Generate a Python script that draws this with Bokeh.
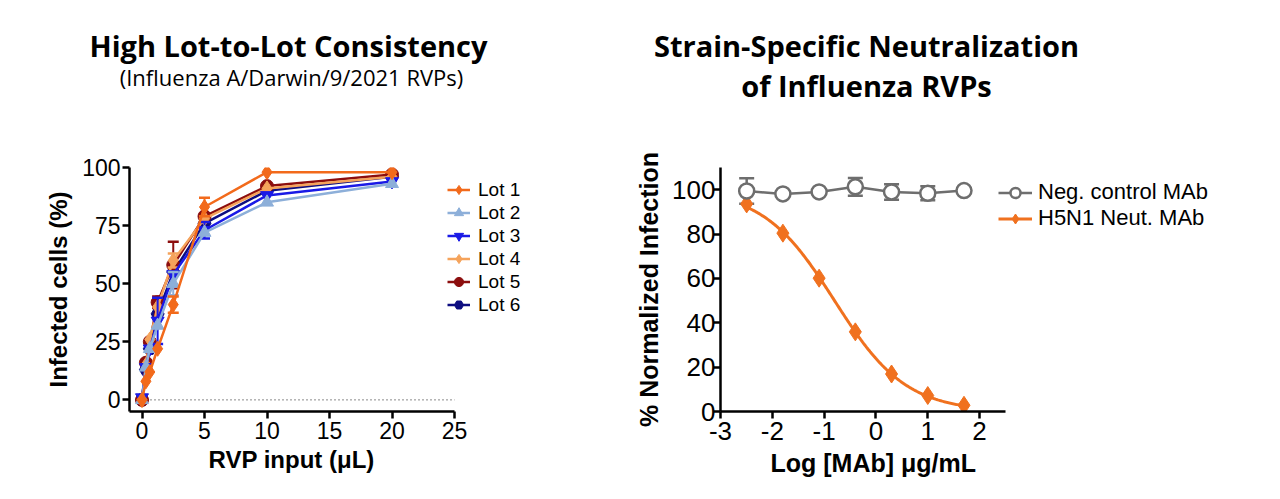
import numpy as np
from bokeh.plotting import figure
from bokeh.models import Range1d, FixedTicker, Legend, LegendItem, Title
from bokeh.layouts import row, column
from bokeh.embed import file_html
from bokeh.resources import INLINE
from bokeh.core.properties import value

# ---------------- data: left panel ----------------
rvp_input = [0, 0.3125, 0.625, 1.25, 2.5, 5, 10, 20]
lot_names = ["Lot 1", "Lot 2", "Lot 3", "Lot 4", "Lot 5", "Lot 6"]
lot1 = [0, 8, 12, 22, 41, 83, 98, 98]
lot2 = [0, 14, 22, 32, 50, 72, 85, 93]
lot3 = [1, 14, 22, 34, 54, 73, 88, 94]
lot4 = [0, 15, 26, 40, 60, 78, 91, 96]
lot5 = [0, 16, 25, 42, 58, 79, 92, 97]
lot6 = [0, 13, 22, 37, 55, 76, 90, 96]
lot1_err = [0, 0, 0, 0, 3.5, 4, 0, 0]
lot2_err = [0, 0, 0, 0, 5, 0, 0, 0]
lot3_err = [0, 0, 0, 10, 0, 3.5, 0, 0]
lot4_err = [0, 0, 0, 0, 3, 0, 0, 0]
lot5_err = [0, 0, 0, 2.5, 10, 0, 0, 0]
lot6_err = [0, 0, 0, 0, 0, 0, 0, 0]
x_ticks_left = [0, 5, 10, 15, 20, 25]
y_ticks_left = [0, 25, 50, 75, 100]

# ---------------- data: right panel ----------------
log_mab = [-2.495, -1.796, -1.097, -0.398, 0.301, 1.0, 1.699]
neg_ctrl = [99.4, 98.1, 99.0, 101.3, 99.0, 98.4, 99.6]
neg_ctrl_err = [5.7, 0, 0, 4.0, 3.5, 3.2, 0]
h5n1 = [93.6, 80.4, 60.1, 35.9, 16.9, 7.2, 2.8]
series_names = ["Neg. control MAb", "H5N1 Neut. MAb"]
x_ticks_right = [-3, -2, -1, 0, 1, 2]
y_ticks_right = [0, 20, 40, 60, 80, 100]

# ---------------- titles ----------------
left_title = "High Lot-to-Lot Consistency"
left_subtitle = "(Influenza A/Darwin/9/2021 RVPs)"
right_title_lines = ["Strain-Specific Neutralization", "of Influenza RVPs"]
left_xlabel = "RVP input (\u03bcL)"
right_xlabel = "Log [MAb] \u03bcg/mL"

lots = [lot1, lot2, lot3, lot4, lot5, lot6]
lot_errs = [lot1_err, lot2_err, lot3_err, lot4_err, lot5_err, lot6_err]
lot_colors = ["#F26A1B", "#8DAFD9", "#1A1AE6", "#F5A35B", "#8C0E0E", "#0D0D80"]
lot_markers = ["diamond", "triangle", "inverted_triangle", "diamond", "circle", "hex"]
lot_sizes = [15, 13, 13, 15, 13, 13]

TICK_FONT = "Liberation Sans"
TITLE_FONT = "Open Sans"

W1, W2 = 620, 656
HT = 110     # title strip height
HM = 385     # main plot height


def style_axes(p, tick_size, label_size, standoff_y=2):
    p.outline_line_color = None
    p.xgrid.grid_line_color = None
    p.ygrid.grid_line_color = None
    p.background_fill_color = "white"
    p.border_fill_color = "white"
    for ax in [p.xaxis[0], p.yaxis[0]]:
        ax.axis_line_width = 2.5
        ax.axis_line_color = "black"
        ax.major_tick_line_width = 2.5
        ax.major_tick_line_color = "black"
        ax.major_tick_out = 7
        ax.major_tick_in = 0
        ax.minor_tick_line_color = None
        ax.major_label_text_font = TICK_FONT
        ax.major_label_text_font_size = tick_size
        ax.major_label_text_color = "black"
        ax.axis_label_text_font = TICK_FONT
        ax.axis_label_text_font_style = "bold"
        ax.axis_label_text_font_size = label_size
        ax.axis_label_text_color = "black"
    p.xaxis[0].major_label_standoff = 3
    p.yaxis[0].major_label_standoff = standoff_y


def title_strip(width):
    t = figure(width=width, height=HT, x_range=Range1d(0, width), y_range=Range1d(HT, 0),
               output_backend="svg", toolbar_location=None,
               x_axis_location=None, y_axis_location=None, min_border=0)
    t.outline_line_color = None
    t.xgrid.grid_line_color = None
    t.ygrid.grid_line_color = None
    return t


# ================= TITLES =================
t1 = title_strip(W1)
t1.text(x=[288], y=[45], text=[left_title], text_align="center", text_baseline="alphabetic",
        text_font=value(TITLE_FONT), text_font_style="bold", text_font_size="29px", text_color="black")
t1.text(x=[291], y=[76], text=[left_subtitle], text_align="center", text_baseline="alphabetic",
        text_font=value(TITLE_FONT), text_font_size="22px", text_color="black")

t2 = title_strip(W2)
t2.text(x=[246, 246], y=[45, 85], text=right_title_lines, text_align="center", text_baseline="alphabetic",
        text_font=value(TITLE_FONT), text_font_style="bold", text_font_size="29px", text_color="black")

# ================= LEFT =================
# frame: 129 px from left, 430 px wide; axis drawn only over the -1..25 span
L_FW = 430
lx_end = -1 + L_FW * 26 / 325
p1 = figure(width=W1, height=HM, x_range=Range1d(-1, lx_end), y_range=Range1d(-5, 100),
            output_backend="svg", toolbar_location=None,
            min_border_left=129, min_border_right=W1 - 129 - L_FW, min_border_top=57, min_border_bottom=84,
            y_axis_label="Infected cells (%)")
style_axes(p1, "23px", "24px")
p1.xaxis[0].ticker = FixedTicker(ticks=x_ticks_left)
p1.yaxis[0].ticker = FixedTicker(ticks=y_ticks_left)
p1.xaxis[0].bounds = (-1, x_ticks_left[-1])
p1.yaxis[0].axis_label_standoff = 7
p1.add_layout(Title(text=left_xlabel, align="left", offset=79, standoff=4,
                    text_font=TICK_FONT, text_font_style="bold", text_font_size="24px",
                    text_color="black"), "below")

# dotted zero baseline over the axis span
p1.line([x_ticks_left[0], x_ticks_left[-1]], [y_ticks_left[0], y_ticks_left[0]],
        line_color="#8a8a8a", line_dash="2 2", line_width=1)

items_left = {}
for i in reversed(range(6)):
    xs = rvp_input
    ys = lots[i]
    es = lot_errs[i]
    c = lot_colors[i]
    ex = [x for x, e in zip(xs, es) if e > 0]
    ey0 = [y - e for y, e in zip(ys, es) if e > 0]
    ey1 = [y + e for y, e in zip(ys, es) if e > 0]
    if ex:
        p1.segment(ex, ey0, ex, ey1, line_color=c, line_width=2)
        p1.scatter(ex + ex, ey0 + ey1, marker="dash", size=11, line_color=c, line_width=2.5)
    ln = p1.line(xs, ys, line_color=c, line_width=2.5)
    sc = p1.scatter(xs, ys, marker=lot_markers[i], size=lot_sizes[i], fill_color=c, line_color=c)
    items_left[i] = [ln, sc]

leg1 = Legend(items=[LegendItem(label=lot_names[i], renderers=items_left[i]) for i in range(6)],
              location=(318, 95), padding=0, spacing=0, margin=0, glyph_width=23, glyph_height=23,
              label_height=23, label_standoff=8, border_line_alpha=0, background_fill_alpha=0,
              label_text_font=TICK_FONT, label_text_font_size="19px", label_text_color="black")
p1.add_layout(leg1)

# ================= RIGHT =================
R_FW = 500
rx_end = -3 + R_FW * 5.5 / 285
p2 = figure(width=W2, height=HM, x_range=Range1d(-3, rx_end), y_range=Range1d(0, 110),
            output_backend="svg", toolbar_location=None,
            min_border_left=100, min_border_right=W2 - 100 - R_FW, min_border_top=28, min_border_bottom=84,
            y_axis_label="% Normalized Infection")
style_axes(p2, "26px", "25px", standoff_y=-2)
p2.xaxis[0].ticker = FixedTicker(ticks=x_ticks_right)
p2.yaxis[0].ticker = FixedTicker(ticks=y_ticks_right)
p2.xaxis[0].bounds = (-3, 2.5)
p2.xaxis[0].major_label_overrides = {t: str(t) for t in x_ticks_right}
p2.yaxis[0].axis_label_standoff = 6
p2.add_layout(Title(text=right_xlabel, align="left", offset=50, standoff=8,
                    text_font=TICK_FONT, text_font_style="bold", text_font_size="25px",
                    text_color="black"), "below")

# 4-parameter logistic fit (top=100, bottom=0) to the H5N1 points
xa = np.array(log_mab)
ya = np.array(h5n1)
best = None
for c50 in np.linspace(-2.0, 0.5, 251):
    for hill in np.linspace(0.2, 2.0, 181):
        pred = 100.0 / (1.0 + 10 ** ((xa - c50) * hill))
        sse = float(np.sum((pred - ya) ** 2))
        if best is None or sse < best[0]:
            best = (sse, c50, hill)
_, c50, hill = best
xfit = np.linspace(xa.min(), xa.max(), 200)
yfit = 100.0 / (1.0 + 10 ** ((xfit - c50) * hill))

GRAY = "#6E6E6E"
ORANGE = "#F0711F"

ex = [x for x, e in zip(log_mab, neg_ctrl_err) if e > 0]
ey0 = [y - e for y, e in zip(neg_ctrl, neg_ctrl_err) if e > 0]
ey1 = [y + e for y, e in zip(neg_ctrl, neg_ctrl_err) if e > 0]
p2.segment(ex, ey0, ex, ey1, line_color=GRAY, line_width=2.5)
p2.scatter(ex + ex, ey0 + ey1, marker="dash", size=15, line_color=GRAY, line_width=2.5)
neg_line = p2.line(log_mab, neg_ctrl, line_color=GRAY, line_width=2.5)

fit_line = p2.line(xfit, yfit, line_color=ORANGE, line_width=3)
h5_sc = p2.scatter(log_mab, h5n1, marker="diamond", size=18, fill_color=ORANGE, line_color=ORANGE)
neg_sc = p2.scatter(log_mab, neg_ctrl, marker="circle", size=15, fill_color="white",
                    line_color=GRAY, line_width=2.5)

leg2 = Legend(items=[LegendItem(label=series_names[0], renderers=[neg_line, neg_sc]),
                     LegendItem(label=series_names[1], renderers=[fit_line, h5_sc])],
              location=(278, 180), padding=0, spacing=0, margin=0, glyph_width=34, glyph_height=25,
              label_height=25, label_standoff=6, border_line_alpha=0, background_fill_alpha=0,
              label_text_font=TICK_FONT, label_text_font_size="22px", label_text_color="black")
p2.add_layout(leg2)

layout = column(row(t1, t2, spacing=0), row(p1, p2, spacing=0), spacing=0)
open("out.html", "w").write(file_html(layout, INLINE))
